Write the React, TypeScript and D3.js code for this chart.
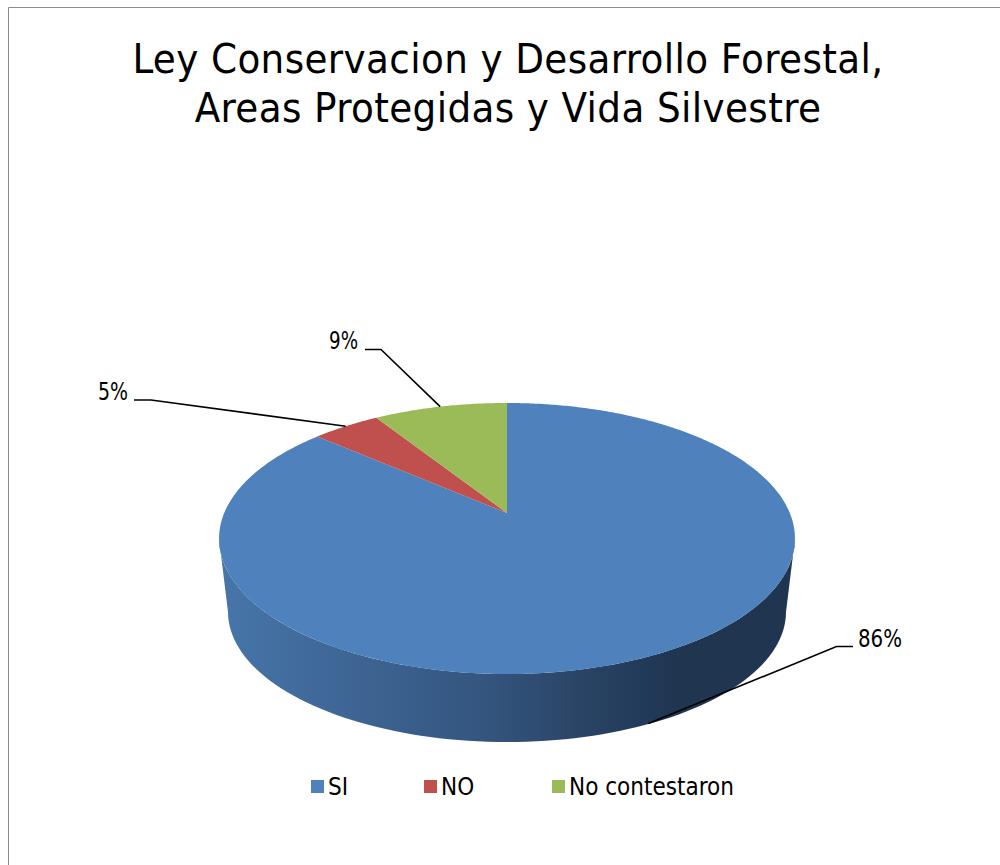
import React from "react";
import * as d3 from "d3";

const titleLines = ["Ley Conservacion y Desarrollo Forestal,", "Areas Protegidas y Vida Silvestre"];
const categories = ["SI", "NO", "No contestaron"];
const values = [86.4, 4.6, 9.0];
const colors = ["#4f81bd", "#c0504d", "#9bbb59"];
const legendX = [311, 424, 552];
const labelAnchors = [
  { elbow: [836.5, 646.5], end: [853, 646.5], text: [858, 647], w: 44 },
  { elbow: [151, 400], end: [134, 400], text: [98, 399.5], w: 30 },
  { elbow: [381, 349.5], end: [365, 349.5], text: [329, 348.5], w: 29 },
];

const FONT = "'DejaVu Sans Condensed', 'DejaVu Sans', sans-serif";
const cx = 507;
const apexY = 513;
const tilt = 0.1882;
const slope = -34.2;
const A = 282.8;
const depth = 68;

// perspective projection of a pie-angle (clockwise from top) on the unit circle
function project(angle: number): [number, number] {
  const u = Math.sin(angle);
  const v = Math.cos(angle);
  const w = 1 + tilt * v;
  return [cx + (A * u) / w, (apexY + slope * v) / w];
}

const line = d3.line<[number, number]>();
const pie = d3.pie<number>().sort(null).startAngle(0).endAngle(2 * Math.PI);
const slices = pie(values);
const pct = d3.format(".0f");

function slicePath(a0: number, a1: number) {
  const n = Math.max(2, Math.ceil((a1 - a0) / 0.01));
  const pts = d3.range(n + 1).map((i) => project(a0 + ((a1 - a0) * i) / n));
  return line([[cx, apexY], ...pts])! + "Z";
}

// Front wall: lower rim is a slightly smaller ellipse than the top rim
const topCy = 538.5;
const topRx = 288;
const topRy = 135.5;
const lowRx = 279;
const lowRy = 130;
const lowCy = topCy + topRy + depth - lowRy;

function wallPath() {
  const low = d3.range(0, 181, 2).map((d): [number, number] => {
    const t = (d * Math.PI) / 180;
    return [cx + lowRx * Math.cos(t), lowCy + lowRy * Math.sin(t)];
  });
  const up = d3.range(180, -1, -2).map((d): [number, number] => {
    const t = (d * Math.PI) / 180;
    return [cx + topRx * Math.cos(t), topCy + topRy * Math.sin(t)];
  });
  return line([...low, ...up])! + "Z";
}

const wallStops: [number, string][] = [
  [0, "#4776a9"],
  [0.2, "#3f6797"],
  [0.45, "#345680"],
  [0.62, "#2b4566"],
  [0.74, "#223a5a"],
  [0.8, "#1f3550"],
  [1, "#1f3550"],
];

export default function App() {
  return (
    <svg
      width={1000}
      height={865}
      style={{ position: "absolute", left: 0, top: 0, background: "#fff" }}
      fontFamily={FONT}
    >
      <defs>
        <linearGradient id="wall" x1="0" x2="1" y1="0" y2="0">
          {wallStops.map(([o, c]) => (
            <stop key={o} offset={o} stopColor={c} />
          ))}
        </linearGradient>
      </defs>
      <path d="M8.5 865V7.5H1000" fill="none" stroke="#8c8c8c" strokeWidth={1} />
      {titleLines.map((t, i) => (
        <text
          key={t}
          x={508}
          y={73 + i * 49}
          textAnchor="middle"
          fontSize={41.5}
          letterSpacing={0.38}
          fill="#000"
        >
          {t}
        </text>
      ))}
      <path d={wallPath()} fill="url(#wall)" />
      {slices.map((s, i) => (
        <path key={categories[i]} d={slicePath(s.startAngle, s.endAngle)} fill={colors[i]} />
      ))}
      {slices.map((s, i) => {
        const mid = (s.startAngle + s.endAngle) / 2;
        const [x, y] = project(mid);
        const onFront = Math.cos(mid) < 0;
        const a = labelAnchors[i];
        const pts: [number, number][] = [
          [x, y + (onFront ? depth - 1 : 0)],
          a.elbow as [number, number],
          a.end as [number, number],
        ];
        return (
          <g key={categories[i]}>
            <path d={line(pts)!} fill="none" stroke="#000" strokeWidth={1.6} />
            <text
              x={a.text[0]}
              y={a.text[1]}
              fontSize={25}
              textLength={a.w}
              lengthAdjust="spacingAndGlyphs"
              fill="#000"
            >
              {`${pct(values[i])}%`}
            </text>
          </g>
        );
      })}
      {categories.map((c, i) => (
        <g key={c}>
          <rect x={legendX[i]} y={780} width={13} height={13} fill={colors[i]} />
          <text x={legendX[i] + 17} y={795} fontSize={24} fill="#000">
            {c}
          </text>
        </g>
      ))}
    </svg>
  );
}
